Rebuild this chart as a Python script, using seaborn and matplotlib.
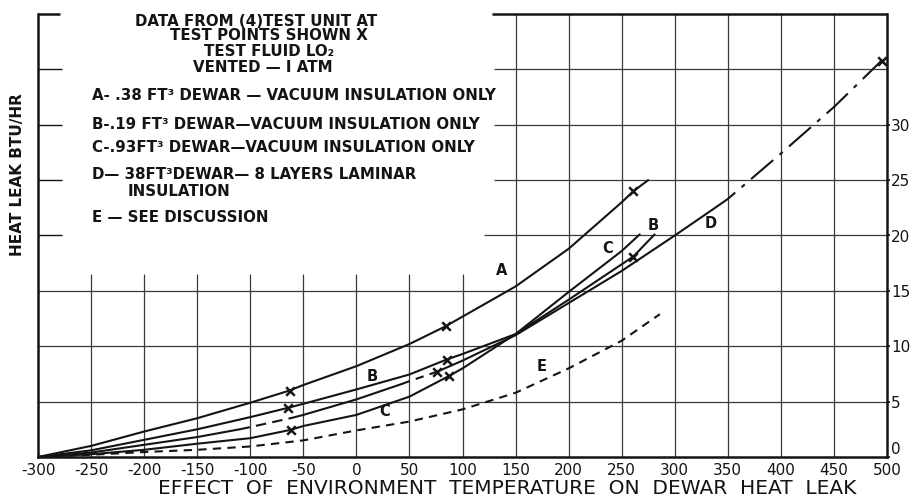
import matplotlib
matplotlib.use("Agg")
import matplotlib.pyplot as plt
import seaborn as sns
import pandas as pd

# Heat leak (BTU/HR) versus environment temperature (deg F) for each dewar
a_temp = [-300, -250, -200, -150, -100, -63, -50, 0, 50, 84, 117, 150, 200, 250, 261, 275]
a_leak = [0, 1.0, 2.3, 3.5, 4.9, 6.0, 6.5, 8.2, 10.2, 11.8, 13.6, 15.4, 18.8, 23.0, 24.0, 25.0]

b_temp = [-300, -250, -200, -150, -100, -64, -50, 0, 50, 85, 100, 150, 200, 250, 261, 281]
b_leak = [0, 0.6, 1.55, 2.5, 3.6, 4.45, 4.8, 6.1, 7.45, 8.8, 9.3, 11.1, 14.2, 17.4, 18.1, 20.1]

c_temp = [-300, -250, -200, -150, -100, -62, -50, 0, 50, 87, 100, 150, 200, 250, 267]
c_leak = [0, 0.25, 0.65, 1.2, 1.7, 2.45, 2.8, 3.8, 5.45, 7.3, 8.0, 11.1, 14.9, 18.6, 20.1]

d_temp = [-300, -250, -200, -150, -110, -100, -60, -50, 0, 43, 50, 76, 100, 150, 200,
          250, 300, 335, 350, 400, 450, 495]
d_leak = [0, 0.4, 1.1, 1.8, 2.5, 2.7, 3.55, 3.8, 5.2, 6.6, 6.85, 7.7, 8.7, 11.0, 13.9,
          16.8, 20.0, 22.3, 23.3, 27.4, 31.6, 35.8]

e_temp = [-300, -250, -200, -150, -100, -50, 0, 50, 100, 150, 200, 250, 286]
e_leak = [0, 0.2, 0.45, 0.65, 0.95, 1.5, 2.4, 3.2, 4.3, 5.8, 8.0, 10.5, 12.9]

# Measured test points (shown X)
pt_temp = [-63, 84, 261, -64, 85, 261, -62, 87, 76, 495]
pt_leak = [6.0, 11.8, 24.0, 4.45, 8.8, 18.1, 2.45, 7.3, 7.7, 35.8]

# Curve letters placed on the chart
lbl_text = ["A", "B", "B", "C", "C", "D", "E"]
lbl_temp = [137, 15, 280, 27, 237, 334, 175]
lbl_leak = [16.8, 7.3, 20.9, 4.1, 18.8, 21.1, 8.2]

x_ticks = list(range(-300, 501, 50))
y_ticks = [0, 5, 10, 15, 20, 25, 30]

sns.set_theme(style="white")
plt.rcParams["font.family"] = ["DejaVu Sans"]

W, H = 915, 501
fig = plt.figure(figsize=(W / 100, H / 100), dpi=100)
fig.patch.set_facecolor("white")


def fx(px):
    return px / W


def fy(py):
    return 1 - py / H


ax = fig.add_axes([fx(38), fy(457), fx(887) - fx(38), fy(14) - fy(457)])
ax.set_facecolor("white")
ax.set_xlim(-300, 500)
ax.set_ylim(0, 40)

ink = "#141414"
grid = "#3a3a3a"

# Grid: lower-left block stops under the notes, right block runs full height
for x in x_ticks[1:-1]:
    top = 16.5 if x <= 100 else 40
    ax.vlines(x, 0, top, color=grid, lw=0.9, zorder=1)
for y in [5, 10, 15]:
    ax.hlines(y, -300, 500, color=grid, lw=0.9, zorder=1)
ax.hlines(20, 120, 500, color=grid, lw=0.9, zorder=1)
for y in [25, 30, 35]:
    ax.hlines(y, 130, 500, color=grid, lw=0.9, zorder=1)
# short ticks on the left edge and partial top border
for y in [20, 25, 30, 35]:
    ax.hlines(y, -300, -277, color=ink, lw=1.0, zorder=2)
ax.hlines(40, -300, -279, color=ink, lw=1.8, clip_on=False, zorder=3)
ax.hlines(40, 128, 500, color=ink, lw=1.8, clip_on=False, zorder=3)

lw = 1.5
sns.lineplot(x=a_temp, y=a_leak, ax=ax, color=ink, lw=lw, sort=False, estimator=None)
sns.lineplot(x=b_temp, y=b_leak, ax=ax, color=ink, lw=lw, sort=False, estimator=None)
sns.lineplot(x=c_temp, y=c_leak, ax=ax, color=ink, lw=lw, sort=False, estimator=None)

# D: broken in places, dash-dot where extrapolated
d_df = pd.DataFrame({"t": d_temp, "q": d_leak})
d_pieces = [(0, 4, "-"), (4, 6, (0, (5, 3))), (6, 9, "-"), (9, 11, (0, (4, 3))),
            (11, 17, "-"), (17, 21, (0, (14, 4, 2, 4)))]
for i0, i1, ls in d_pieces:
    seg = d_df.iloc[i0:i1 + 1]
    sns.lineplot(data=seg, x="t", y="q", ax=ax, color=ink, lw=lw, linestyle=ls,
                 sort=False, estimator=None)

sns.lineplot(x=e_temp, y=e_leak, ax=ax, color=ink, lw=lw, linestyle=(0, (4, 3)),
             sort=False, estimator=None)

sns.scatterplot(x=pt_temp, y=pt_leak, ax=ax, marker="x", s=38, color=ink,
                linewidth=1.8, zorder=5)

for t, x, y in zip(lbl_text, lbl_temp, lbl_leak):
    ax.text(x, y, t, ha="center", va="center", fontsize=10.5, fontweight="bold", color=ink)

ax.set_xticks(x_ticks)
ax.set_xticklabels([str(v) for v in x_ticks], fontsize=11, color=ink)
ax.set_yticks(y_ticks)
ax.set_yticklabels([str(v) for v in y_ticks], fontsize=11, color=ink)
ax.tick_params(axis="x", length=0, pad=4)
ax.tick_params(axis="y", left=False, right=True, labelleft=False, labelright=True,
               length=2, direction="out", pad=1, color=ink)
# lift the zero label clear of the bottom-right temperature label
ax.get_yticklabels()[0].set_verticalalignment("bottom")
ax.set_xlabel("")
ax.set_ylabel("")

for side in ["left", "bottom", "right"]:
    ax.spines[side].set_visible(True)
    ax.spines[side].set_color(ink)
    ax.spines[side].set_linewidth(1.8)
ax.spines["top"].set_visible(False)

# Notes block
note_kw = dict(fontsize=10.8, fontweight="bold", color=ink, va="center")
fig.text(fx(256), fy(21), "DATA FROM (4)TEST UNIT AT", ha="center", **note_kw)
fig.text(fx(269), fy(36), "TEST POINTS SHOWN X", ha="center", **note_kw)
fig.text(fx(269), fy(51), "TEST FLUID LO\u2082", ha="center", **note_kw)
fig.text(fx(263), fy(68), "VENTED \u2014 I ATM", ha="center", **note_kw)
fig.text(fx(92), fy(95), "A- .38 FT\u00b3 DEWAR \u2014 VACUUM INSULATION ONLY", ha="left", **note_kw)
fig.text(fx(92), fy(125), "B-.19 FT\u00b3 DEWAR\u2014VACUUM INSULATION ONLY", ha="left", **note_kw)
fig.text(fx(92), fy(148), "C-.93FT\u00b3 DEWAR\u2014VACUUM INSULATION ONLY", ha="left", **note_kw)
fig.text(fx(92), fy(174), "D\u2014 38FT\u00b3DEWAR\u2014 8 LAYERS LAMINAR", ha="left", **note_kw)
fig.text(fx(128), fy(191), "INSULATION", ha="left", **note_kw)
fig.text(fx(92), fy(217), "E \u2014 SEE DISCUSSION", ha="left", **note_kw)

fig.text(fx(18), fy(175), "HEAT LEAK BTU/HR", rotation=90, ha="center", va="center",
         fontsize=11, fontweight="bold", color=ink)
fig.text(fx(507), fy(489), "EFFECT  OF  ENVIRONMENT  TEMPERATURE  ON  DEWAR  HEAT  LEAK",
         ha="center", va="center", fontsize=14.5, color=ink)

fig.savefig("out.png", dpi=100, facecolor="white")
